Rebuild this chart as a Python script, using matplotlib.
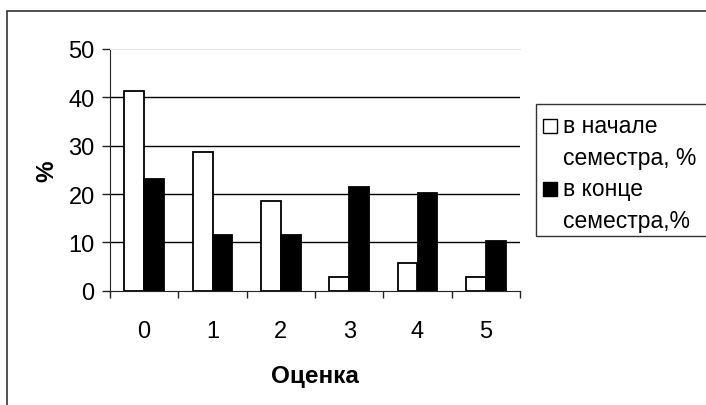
import matplotlib.pyplot as plt
import matplotlib.patches as mpatches
import numpy as np

plt.rcParams['font.family'] = ['Liberation Sans', 'DejaVu Sans']

grades = ['0', '1', '2', '3', '4', '5']
start_pct = [41.3, 28.7, 18.6, 2.9, 5.7, 2.9]
end_pct = [23.1, 11.6, 11.6, 21.5, 20.2, 10.2]
label_start = 'в начале\nсеместра, %'
label_end = 'в конце\nсеместра,%'

W, H = 706, 406
fig = plt.figure(figsize=(W / 100, H / 100), dpi=100)

# outer chart frame (only top and left edges are visible)
fig.patches.append(mpatches.Rectangle((7 / W, -0.1), 1.2, (H - 12) / H + 0.1,
                                      transform=fig.transFigure, fill=False,
                                      edgecolor='#333333', linewidth=1.2))

ax = fig.add_axes([110 / W, (H - 291.7) / H, 410 / W, 241.7 / H])

x = np.arange(len(grades))
w = 0.292
ax.bar(x - w / 2, start_pct, w, color='white', edgecolor='black', linewidth=1.3, zorder=3)
ax.bar(x + w / 2, end_pct, w, color='black', edgecolor='black', linewidth=1.3, zorder=3)

ax.set_xlim(-0.5, 5.5)
ax.set_ylim(0, 50)
ax.set_yticks([0, 10, 20, 30, 40, 50])
for v in [10, 20, 30, 40]:
    ax.axhline(v, color='black', linewidth=1.0, zorder=1)

# category boundaries as ticks, labels at category centres
ax.set_xticks(np.arange(-0.5, 6, 1))
ax.set_xticklabels([])
ax.set_xticks(x, minor=True)
ax.set_xticklabels(grades, minor=True)
ax.tick_params(axis='x', which='major', direction='out', length=5, width=1, color='#222222')
ax.tick_params(axis='x', which='minor', length=0, pad=21, labelsize=17)
ax.tick_params(axis='y', direction='out', length=6, width=1, color='#222222',
               labelsize=17, pad=5)

ax.spines['right'].set_visible(False)
ax.spines['top'].set_color('#e6e6e6')
ax.spines['left'].set_color('#222222')
ax.spines['bottom'].set_color('#222222')

ax.set_xlabel('Оценка', fontsize=17.5, fontweight='bold', labelpad=16)
ax.set_ylabel('%', fontsize=17.5, fontweight='bold', labelpad=7)

# legend box
fig.patches.append(mpatches.Rectangle((536 / W, (H - 237) / H), 0.3, 132 / H,
                                      transform=fig.transFigure, fill=True,
                                      facecolor='white', edgecolor='#333333',
                                      linewidth=1.0))
for yc, color, text in [(127, 'white', label_start), (190, 'black', label_end)]:
    fig.patches.append(mpatches.Rectangle((543 / W, (H - yc - 7) / H), 14 / W, 14 / H,
                                          transform=fig.transFigure,
                                          facecolor=color, edgecolor='black',
                                          linewidth=1.0))
    fig.text(563 / W, (H - yc + 12) / H, text, fontsize=16.5, va='top', ha='left',
             linespacing=1.5)

fig.savefig('out.png', dpi=100)
